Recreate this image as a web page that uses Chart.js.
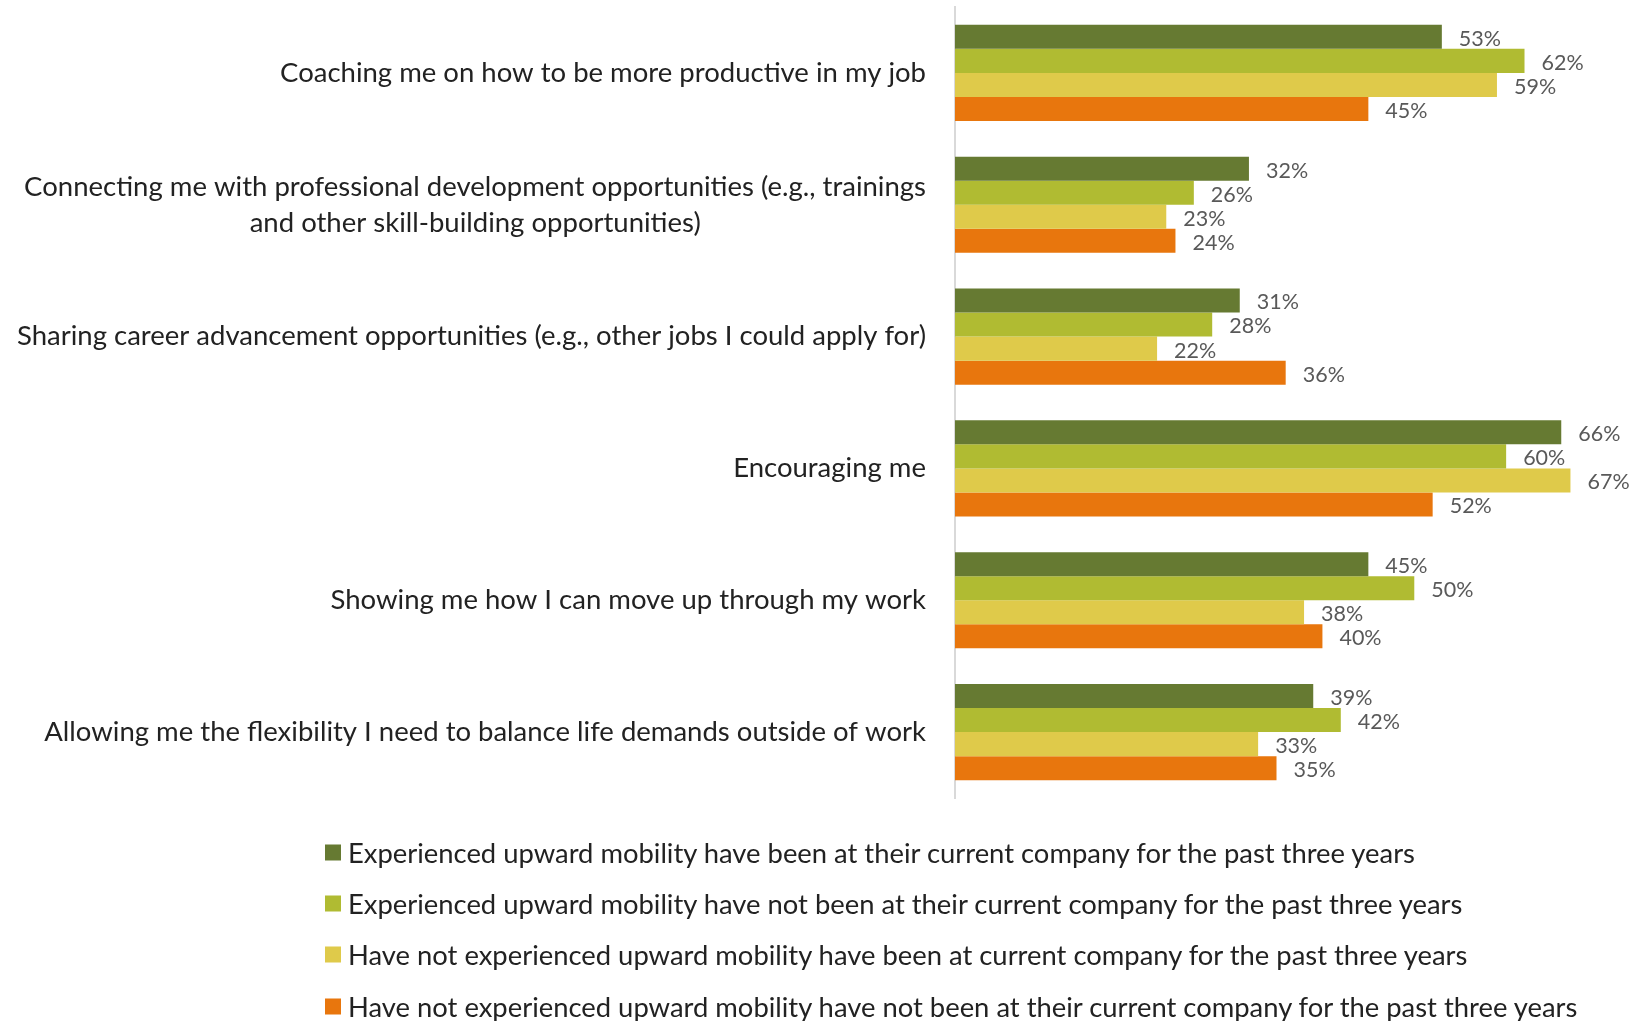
<!DOCTYPE html>
<html>
<head>
<meta charset="utf-8">
<script src="https://cdn.jsdelivr.net/npm/chart.js@4.4.1/dist/chart.umd.min.js"></script>
<style>
  html, body { margin: 0; padding: 0; background: #fff; }
  #wrap { position: relative; width: 1632px; height: 1021px; overflow: hidden; }
  #legend { position: absolute; left: 325px; top: 0; font-family: Lato, "Open Sans", sans-serif; font-size: 27.4px; color: #222; }
  .li { position: absolute; left: 0; white-space: nowrap; display: flex; align-items: center; transform: translateY(-50%); }
  .sw { width: 16px; height: 16px; margin-right: 7px; flex: none; }
</style>
</head>
<body>
<div id="wrap">
  <canvas id="c" width="1632" height="1021"></canvas>
  <div id="legend"></div>
</div>
<script>
const categories = [
  "Coaching me on how to be more productive in my job",
  ["Connecting me with professional development opportunities (e.g., trainings", "and other skill-building opportunities)"],
  "Sharing career advancement opportunities (e.g., other jobs I could apply for)",
  "Encouraging me",
  "Showing me how I can move up through my work",
  "Allowing me the flexibility I need to balance life demands outside of work"
];
const seriesNames = [
  "Experienced upward mobility have been at their current company for the past three years",
  "Experienced upward mobility have not been at their current company for the past three years",
  "Have not experienced upward mobility have been at current company for the past three years",
  "Have not experienced upward mobility have not been at their current company for the past three years"
];
const upBeen      = [53, 32, 31, 66, 45, 39];
const upNotBeen   = [62, 26, 28, 60, 50, 42];
const noUpBeen    = [59, 23, 22, 67, 38, 33];
const noUpNotBeen = [45, 24, 36, 52, 40, 35];
const seriesColors = ["#667A32", "#B0BB32", "#DFCA4A", "#E8760D"];

const LABEL_SIZE = 27.5;
const measureCtx = document.createElement("canvas").getContext("2d");
measureCtx.font = LABEL_SIZE + "px Lato";

const valueLabels = {
  id: "valueLabels",
  afterDatasetsDraw(chart) {
    const ctx = chart.ctx;
    ctx.save();
    ctx.font = "21.5px Lato";
    ctx.fillStyle = "#595959";
    ctx.textBaseline = "middle";
    ctx.textAlign = "left";
    chart.data.datasets.forEach((ds, i) => {
      const meta = chart.getDatasetMeta(i);
      meta.data.forEach((el, j) => {
        ctx.fillText(ds.data[j] + "%", el.x + 17, el.y + 2);
      });
    });
    ctx.restore();
  }
};

const allSeries = [upBeen, upNotBeen, noUpBeen, noUpNotBeen];
const chart = new Chart(document.getElementById("c"), {
  type: "bar",
  data: {
    labels: categories,
    datasets: allSeries.map((d, i) => ({
      label: seriesNames[i],
      data: d,
      backgroundColor: seriesColors[i],
      categoryPercentage: 0.73,
      barPercentage: 1.0
    }))
  },
  options: {
    indexAxis: "y",
    responsive: false,
    animation: false,
    layout: { padding: { top: 7, bottom: 223, right: 34, left: 0 } },
    plugins: { legend: { display: false }, tooltip: { enabled: false } },
    scales: {
      x: { display: false, min: 0, max: 70 },
      y: {
        afterFit(scale) { scale.width = 955; scale.paddingTop = 0; scale.paddingBottom = 0; },
        grid: { display: false },
        border: { display: true, color: "#D9D9D9", width: 2 },
        ticks: {
          padding: 21,
          color: "#222",
          font: { family: "Lato", size: LABEL_SIZE, lineHeight: 1.3 },
          callback(value, index) {
            const lab = categories[index];
            if (Array.isArray(lab)) {
              const w1 = measureCtx.measureText(lab[0]).width;
              const w2 = measureCtx.measureText(lab[1]).width;
              const sp = measureCtx.measureText(" ").width;
              const n = Math.round(((w1 - w2) / 2) / sp);
              return [lab[0], lab[1] + " ".repeat(Math.max(0, n))];
            }
            return lab;
          }
        }
      }
    }
  },
  plugins: [valueLabels]
});

// legend built from chart datasets
const legendTops = [852, 903, 954, 1006];
const lg = document.getElementById("legend");
chart.data.datasets.forEach((ds, i) => {
  const row = document.createElement("div");
  row.className = "li";
  row.style.top = legendTops[i] + "px";
  const sw = document.createElement("span");
  sw.className = "sw";
  sw.style.background = ds.backgroundColor;
  const tx = document.createElement("span");
  tx.textContent = ds.label;
  row.appendChild(sw); row.appendChild(tx);
  lg.appendChild(row);
});
</script>
</body>
</html>
